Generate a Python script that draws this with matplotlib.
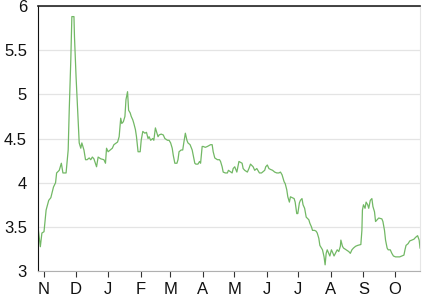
import pandas as pd
import matplotlib.pyplot as plt
import matplotlib.dates as mdates

# -----------------------------
# Data
# -----------------------------
start = "2012-11-01"

days = [
    -5.7, -3.5, -2, 0, 2, 4.5, 6.5, 9, 11, 12, 14.5, 16.5, 18, 21, 23, 24,
    25.5, 26.5, 28.5, 29, 30.5, 32, 33.5, 35, 36, 38, 39.5, 41, 43, 44.5,
    46, 47.5, 50, 51.5, 54, 57, 58.5, 59.5, 61, 63, 65, 66.5, 70, 71.5, 73,
    74, 75.5, 77, 78, 79.5, 80.5, 82, 83, 84.5, 85.5, 87, 88, 89.5, 91.5,
    92.5, 94, 96, 97.5, 99, 100, 101.5, 103.5, 104.5, 106, 107, 108.5,
    109.5, 111.5, 113.5, 115, 117.5, 119, 120.5, 122, 123, 124.5, 126.5,
    127.5, 128.5, 130.5, 132, 133, 134.5, 136, 137, 139, 141, 142, 143.5,
    144.5, 146.5, 148, 149, 150.5, 151.5, 153.5, 155.5, 158.5, 160, 161,
    162.5, 165, 167, 168, 169.5, 170.5, 172.5, 174.5, 175.5, 179, 180,
    181.5, 183.5, 185.5, 188.5, 189.5, 191, 193.5, 195, 196.5, 199, 200.5,
    202.5, 205, 207, 210, 211, 212.5, 214, 215.5, 217.5, 219.5, 221.5,
    223.5, 225, 226.5, 228.5, 229.5, 231, 232, 233.5, 234.5, 238, 239,
    240.5, 241.5, 243, 244, 245.5, 246.5, 248, 249.5, 252, 253, 254.5,
    255.5, 257.5, 259, 260, 261.5, 262.5, 265, 266.5, 267.5, 268.5, 269.5,
    272, 273.5, 275, 276, 279, 280.5, 282, 282.5, 284, 285, 287.5, 290,
    291.5, 293, 294.5, 296.5, 298.5, 301.5, 302.5, 303, 304, 305.5, 306.5,
    308, 309, 310.5, 312, 313, 314.5, 315.5, 317, 318.5, 321.5, 322.5, 324,
    325, 326.5, 327.5, 329.5, 331, 332.5, 334.5, 336.5, 338.5, 340.5,
    342.5, 343.5, 344.5, 346.5, 348, 350, 352, 353.5, 355.5, 357, 357.8,
]

values = [
    3.50, 3.275, 3.43, 3.445, 3.69, 3.80, 3.83, 3.95, 4.00, 4.11, 4.14,
    4.22, 4.11, 4.11, 4.37, 4.82, 5.39, 5.88, 5.88, 5.65, 5.20, 4.82, 4.45,
    4.39, 4.45, 4.37, 4.26, 4.26, 4.28, 4.26, 4.29, 4.27, 4.18, 4.29, 4.27,
    4.26, 4.22, 4.39, 4.35, 4.37, 4.39, 4.43, 4.46, 4.52, 4.73, 4.67, 4.69,
    4.75, 4.94, 5.03, 4.82, 4.79, 4.75, 4.71, 4.67, 4.60, 4.52, 4.35, 4.35,
    4.48, 4.58, 4.56, 4.57, 4.50, 4.52, 4.48, 4.50, 4.48, 4.62, 4.58, 4.52,
    4.54, 4.55, 4.54, 4.50, 4.48, 4.48, 4.45, 4.39, 4.31, 4.22, 4.22, 4.26,
    4.35, 4.37, 4.37, 4.45, 4.56, 4.48, 4.45, 4.43, 4.37, 4.31, 4.22, 4.21,
    4.21, 4.24, 4.22, 4.41, 4.41, 4.40, 4.41, 4.43, 4.43, 4.35, 4.28, 4.26,
    4.26, 4.24, 4.18, 4.12, 4.11, 4.11, 4.14, 4.11, 4.16, 4.18, 4.12, 4.24,
    4.22, 4.16, 4.14, 4.12, 4.16, 4.21, 4.18, 4.14, 4.16, 4.11, 4.11, 4.14,
    4.18, 4.20, 4.16, 4.15, 4.14, 4.12, 4.11, 4.11, 4.12, 4.09, 4.01, 3.99,
    3.92, 3.84, 3.78, 3.84, 3.82, 3.78, 3.65, 3.65, 3.77, 3.80, 3.82, 3.75,
    3.71, 3.61, 3.58, 3.54, 3.50, 3.46, 3.46, 3.45, 3.43, 3.37, 3.29, 3.24,
    3.16, 3.07, 3.20, 3.24, 3.17, 3.24, 3.20, 3.17, 3.24, 3.22, 3.28, 3.35,
    3.28, 3.26, 3.24, 3.22, 3.20, 3.24, 3.26, 3.28, 3.29, 3.30, 3.46, 3.69,
    3.75, 3.71, 3.78, 3.75, 3.71, 3.80, 3.82, 3.73, 3.67, 3.56, 3.58, 3.60,
    3.59, 3.56, 3.46, 3.35, 3.26, 3.24, 3.24, 3.20, 3.17, 3.16, 3.16, 3.16,
    3.17, 3.18, 3.24, 3.29, 3.31, 3.34, 3.35, 3.36, 3.38, 3.40, 3.35, 3.26,
]

y_ticks = [3, 3.5, 4, 4.5, 5, 5.5, 6]

dates = pd.Timestamp(start) + pd.to_timedelta(days, unit="D")

# -----------------------------
# Plot
# -----------------------------
plt.rcParams["font.family"] = ["Liberation Sans", "DejaVu Sans"]

fig = plt.figure(figsize=(4.33, 2.94), dpi=100)
ax = fig.add_axes([0.0878, 0.0782, 0.8822, 0.9014])

ax.plot(dates, values, color="#72b865", linewidth=0.9)

ax.set_xlim(dates[0], dates[-1])
ax.set_ylim(3, 6)
ax.set_yticks(y_ticks)
ax.set_yticklabels([f"{v:g}" for v in y_ticks])
ax.yaxis.grid(True, color="#e4e4e4", linewidth=0.9)
ax.set_axisbelow(True)

ax.xaxis.set_major_locator(mdates.MonthLocator())
ax.xaxis.set_major_formatter(
    plt.FuncFormatter(lambda x, pos: mdates.num2date(x).strftime("%b")[0])
)

ax.tick_params(axis="y", length=0, pad=8, labelsize=12, labelcolor="#111111")
ax.tick_params(axis="x", length=4, width=0.8, color="#333333", pad=4,
               labelsize=12, labelcolor="#111111")

ax.spines["left"].set_color("#111111")
ax.spines["top"].set_color("#222222")
ax.spines["top"].set_linewidth(1.2)
ax.spines["right"].set_color("#e6e6e6")
ax.spines["bottom"].set_color("#b0b0b0")

fig.savefig("out.png", dpi=100)
